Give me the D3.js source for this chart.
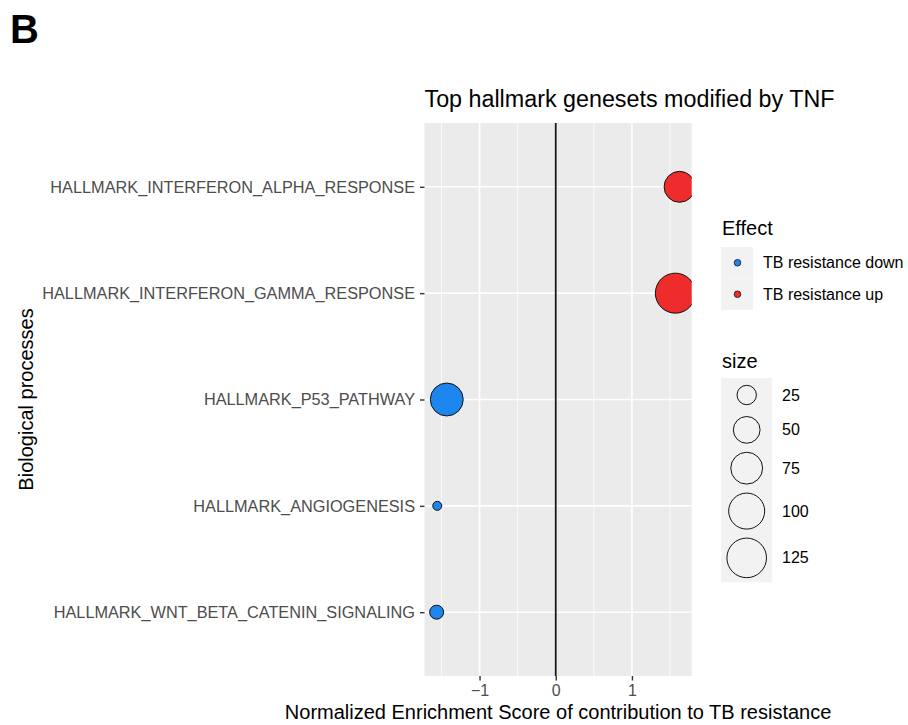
<!DOCTYPE html>
<html><head><meta charset="utf-8">
<script src="https://cdn.jsdelivr.net/npm/d3@7"></script>
<style>body{margin:0;background:#fff;} text{font-family:"Liberation Sans",Arial,Helvetica,sans-serif;}</style>
</head><body>
<svg id="c" width="908" height="725"></svg>
<script>
// ---- data ----
const pathways = ["HALLMARK_INTERFERON_ALPHA_RESPONSE","HALLMARK_INTERFERON_GAMMA_RESPONSE","HALLMARK_P53_PATHWAY","HALLMARK_ANGIOGENESIS","HALLMARK_WNT_BETA_CATENIN_SIGNALING"];
const nes = [1.625, 1.57, -1.43, -1.555, -1.563];
const sizes = [70, 128, 81, 12, 15];
const effects = ["TB resistance up","TB resistance up","TB resistance down","TB resistance down","TB resistance down"];
const effectLevels = ["TB resistance down","TB resistance up"];
const effectColors = ["#1C86EE","#EE2C2C"];
const xTicks = [-1, 0, 1];
const xMinor = [-1.5, -0.5, 0.5, 1.5];
const sizeBreaks = [25, 50, 75, 100, 125];

const svg = d3.select("#c");
const P = {l:424.5, r:691.7, t:123, b:676};

const xmin = d3.min(nes), xmax = d3.max(nes), span = xmax - xmin;
const x = d3.scaleLinear().domain([xmin - 0.05*span, xmax + 0.05*span]).range([P.l, P.r]);
const y = d3.scalePoint().domain(pathways).range([P.t, P.b]).padding(0.6);
const color = d3.scaleOrdinal().domain(effectLevels).range(effectColors);
const sNorm = d3.scaleLinear().domain(d3.extent(sizes)).range([0,1]).clamp(true);
const rLin = d3.scaleLinear().domain([0,1]).range([4.5, 20]);
const rad = v => rLin(Math.sqrt(sNorm(v)));

// title
svg.append("text").attr("x", 10).attr("y", 43).attr("font-size", 40).attr("font-weight", "bold").text("B");
svg.append("text").attr("x", P.l).attr("y", 107).attr("font-size", 23.3).attr("fill", "#000").text("Top hallmark genesets modified by TNF");

// panel
svg.append("rect").attr("x", P.l).attr("y", P.t).attr("width", P.r-P.l).attr("height", P.b-P.t).attr("fill", "#EBEBEB");
svg.append("defs").append("clipPath").attr("id","clip").append("rect")
  .attr("x", P.l).attr("y", P.t).attr("width", P.r-P.l).attr("height", P.b-P.t);
const g = svg.append("g").attr("clip-path","url(#clip)");
g.selectAll(".minor").data(xMinor).enter().append("line")
  .attr("x1", d=>x(d)).attr("x2", d=>x(d)).attr("y1", P.t).attr("y2", P.b)
  .attr("stroke", "#fff").attr("stroke-width", 0.8);
g.selectAll(".majx").data(xTicks).enter().append("line")
  .attr("x1", d=>x(d)).attr("x2", d=>x(d)).attr("y1", P.t).attr("y2", P.b)
  .attr("stroke", "#fff").attr("stroke-width", 1.6);
g.selectAll(".majy").data(pathways).enter().append("line")
  .attr("x1", P.l).attr("x2", P.r).attr("y1", d=>y(d)).attr("y2", d=>y(d))
  .attr("stroke", "#fff").attr("stroke-width", 1.6);
g.append("line").attr("x1", x(0)).attr("x2", x(0)).attr("y1", P.t).attr("y2", P.b)
  .attr("stroke", "#1a1a1a").attr("stroke-width", 1.8);
g.selectAll(".pt").data(pathways).enter().append("circle")
  .attr("cx", (d,i)=>x(nes[i])).attr("cy", d=>y(d)).attr("r", (d,i)=>rad(sizes[i]))
  .attr("fill", (d,i)=>color(effects[i])).attr("stroke", "#111").attr("stroke-width", 1);

// axes
const xAxis = svg.append("g").attr("transform", `translate(0,${P.b})`)
  .call(d3.axisBottom(x).tickValues(xTicks).tickSize(4.5).tickPadding(4).tickFormat(d => d < 0 ? "\u2212" + Math.abs(d) : d));
xAxis.select(".domain").remove();
xAxis.selectAll("line").attr("stroke", "#333").attr("stroke-width", 1.4);
xAxis.selectAll("text").attr("font-size", 16).attr("fill", "#4D4D4D").attr("font-family", "Liberation Sans, Arial, sans-serif");

const yAxis = svg.append("g").attr("transform", `translate(${P.l},0)`)
  .call(d3.axisLeft(y).tickSize(4.5).tickPadding(5));
yAxis.select(".domain").remove();
yAxis.selectAll("line").attr("stroke", "#333").attr("stroke-width", 1.4);
yAxis.selectAll("text").attr("font-size", 16.3).attr("fill", "#4D4D4D").attr("font-family", "Liberation Sans, Arial, sans-serif");

svg.append("text").attr("x", (P.l+P.r)/2).attr("y", 719).attr("text-anchor", "middle").attr("font-size", 20)
  .text("Normalized Enrichment Score of contribution to TB resistance");
svg.append("text").attr("transform", `translate(33,${(P.t+P.b)/2}) rotate(-90)`).attr("text-anchor", "middle").attr("font-size", 20)
  .text("Biological processes");

// legend: Effect
const L = {x:721};
svg.append("text").attr("x", 722).attr("y", 235).attr("font-size", 20).text("Effect");
const eg = svg.append("g");
const keyH = 31.5;
effectLevels.forEach((e,i)=>{
  const ky = 247 + i*keyH;
  eg.append("rect").attr("x", L.x).attr("y", ky).attr("width", 32).attr("height", keyH).attr("fill", "#F2F2F2");
  eg.append("circle").attr("cx", L.x+16.5).attr("cy", ky+keyH/2).attr("r", 3.3).attr("fill", color(e)).attr("stroke", "#111").attr("stroke-width", 0.8);
  eg.append("text").attr("x", 763).attr("y", ky+keyH/2).attr("dy", "0.35em").attr("font-size", 16).text(e);
});

// legend: size
svg.append("text").attr("x", 722).attr("y", 368).attr("font-size", 20).text("size");
let sy = 378;
const sg = svg.append("g");
const hs = sizeBreaks.map(v => Math.max(34, 2*rad(v)+9));
sg.append("rect").attr("x", L.x).attr("y", sy).attr("width", 51).attr("height", d3.sum(hs)).attr("fill", "#F2F2F2");
sizeBreaks.forEach((v,i)=>{
  const cy = sy + hs[i]/2;
  sg.append("circle").attr("cx", L.x+25.7).attr("cy", cy).attr("r", rad(v)).attr("fill", "none").attr("stroke", "#111").attr("stroke-width", 1);
  sg.append("text").attr("x", 782).attr("y", cy).attr("dy", "0.35em").attr("font-size", 16).text(v);
  sy += hs[i];
});
</script>
</body></html>
